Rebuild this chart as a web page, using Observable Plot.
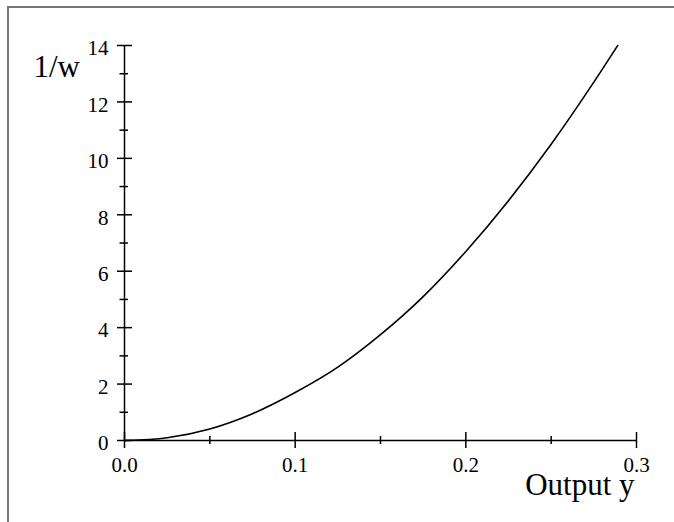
<!DOCTYPE html>
<html>
<head>
<meta charset="utf-8">
<script src="https://cdn.jsdelivr.net/npm/d3@7"></script>
<script src="https://cdn.jsdelivr.net/npm/@observablehq/plot@0.6"></script>
<style>
  html, body { margin: 0; padding: 0; background: #fff; }
  #wrap { position: relative; width: 674px; height: 522px; overflow: hidden; }
  #border { position: absolute; left: 7px; top: 6px; right: 0; bottom: 0;
            border-top: 2px solid #777; border-left: 2px solid #777; pointer-events: none; }
  #chart { position: absolute; left: 0; top: 0; }
</style>
</head>
<body>
<div id="wrap"><div id="chart"></div><div id="border"></div></div>
<script>
// Data
const outputY = [0, 0.025, 0.05, 0.075, 0.1, 0.125, 0.15, 0.175, 0.2, 0.225, 0.25, 0.275, 0.289];
const invW    = [0, 0.10, 0.41, 0.95, 1.70, 2.60, 3.75, 5.10, 6.70, 8.50, 10.50, 12.70, 14.0];

const xMajor = [0, 0.1, 0.2, 0.3];
const xMinor = [0.05, 0.15, 0.25];
const xTickLabels = ["0.0", "0.1", "0.2", "0.3"];
const yMajor = [0, 2, 4, 6, 8, 10, 12, 14];
const yMinor = [1, 3, 5, 7, 9, 11, 13];
const yTickLabels = ["0", "2", "4", "6", "8", "10", "12", "14"];
const xLabel = "Output y";
const yLabel = "1/w";

const points = outputY.map((x, i) => ({x, y: invW[i]}));
const FONT = "'Liberation Serif', 'Times New Roman', serif";

const chart = Plot.plot({
  width: 674,
  height: 522,
  marginLeft: 124,
  marginRight: 38,
  marginTop: 45,
  marginBottom: 82,
  style: {fontFamily: FONT, fontSize: "21px", color: "#000", background: "transparent"},
  x: {domain: [0, 0.3], axis: null},
  y: {domain: [0, 14], axis: null},
  marks: [
    Plot.ruleX([0], {stroke: "#000", strokeWidth: 1.5}),
    Plot.ruleY([0], {stroke: "#000", strokeWidth: 1.5}),
    // y ticks (crossing the axis)
    Plot.axisY({ticks: yMajor, tickSize: 15, dx: 8, text: null, stroke: "#000", strokeWidth: 1.5, label: null}),
    Plot.axisY({ticks: yMinor, tickSize: 8.5, dx: 4, text: null, stroke: "#000", strokeWidth: 1.5, label: null}),
    Plot.text(yMajor, {y: d => d, text: (d, i) => yTickLabels[i], frameAnchor: "left", dx: -16, dy: 3, textAnchor: "end", fontSize: "21px", fill: "#000"}),
    // x ticks (crossing the axis)
    Plot.axisX({ticks: xMajor, tickSize: 16, dy: -8, text: null, stroke: "#000", strokeWidth: 1.5, label: null}),
    Plot.axisX({ticks: xMinor, tickSize: 8, dy: -4, text: null, stroke: "#000", strokeWidth: 1.5, label: null}),
    Plot.text(xMajor, {x: d => d, text: (d, i) => xTickLabels[i], frameAnchor: "bottom", dy: 17, lineAnchor: "top", fontSize: "21px", fill: "#000"}),
    // curve
    Plot.line(points, {x: "x", y: "y", stroke: "#000", strokeWidth: 1.6, curve: "monotone-x"}),
    // axis titles
    Plot.text([yLabel], {frameAnchor: "top-left", dx: -91, dy: 31, textAnchor: "start", lineAnchor: "bottom", fontSize: "31px", fill: "#000"}),
    Plot.text([xLabel], {frameAnchor: "bottom-right", dx: -2, dy: 54, textAnchor: "end", lineAnchor: "bottom", fontSize: "31px", fill: "#000"})
  ]
});
document.getElementById("chart").appendChild(chart);
</script>
</body>
</html>
